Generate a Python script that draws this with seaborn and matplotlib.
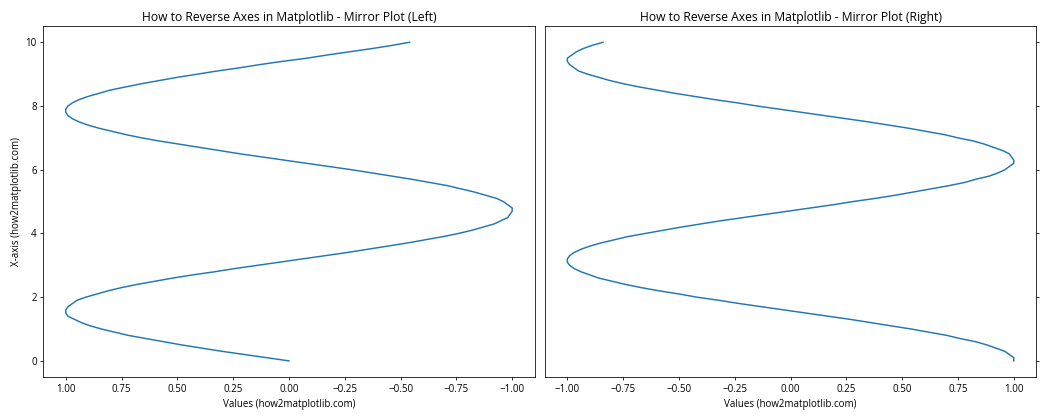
import pandas as pd
import seaborn as sns
import matplotlib
matplotlib.use("Agg")
import matplotlib.pyplot as plt

positions = [0.0, 0.1, 0.2, 0.3, 0.4, 0.5, 0.6, 0.7, 0.8, 0.9,
             1.0, 1.1, 1.2, 1.3, 1.4, 1.5, 1.6, 1.7, 1.8, 1.9,
             2.0, 2.1, 2.2, 2.3, 2.4, 2.5, 2.6, 2.7, 2.8, 2.9,
             3.0, 3.1, 3.2, 3.3, 3.4, 3.5, 3.6, 3.7, 3.8, 3.9,
             4.0, 4.1, 4.2, 4.3, 4.4, 4.5, 4.6, 4.7, 4.8, 4.9,
             5.0, 5.1, 5.2, 5.3, 5.4, 5.5, 5.6, 5.7, 5.8, 5.9,
             6.0, 6.1, 6.2, 6.3, 6.4, 6.5, 6.6, 6.7, 6.8, 6.9,
             7.0, 7.1, 7.2, 7.3, 7.4, 7.5, 7.6, 7.7, 7.8, 7.9,
             8.0, 8.1, 8.2, 8.3, 8.4, 8.5, 8.6, 8.7, 8.8, 8.9,
             9.0, 9.1, 9.2, 9.3, 9.4, 9.5, 9.6, 9.7, 9.8, 9.9,
             10.0]
left_values = [0.00, 0.10, 0.20, 0.30, 0.39, 0.48, 0.56, 0.64, 0.72, 0.78,
               0.84, 0.89, 0.93, 0.96, 0.99, 1.00, 1.00, 0.99, 0.97, 0.95,
               0.91, 0.86, 0.81, 0.75, 0.68, 0.60, 0.52, 0.43, 0.33, 0.24,
               0.14, 0.04, -0.06, -0.16, -0.26, -0.35, -0.44, -0.53, -0.61, -0.69,
               -0.76, -0.82, -0.87, -0.92, -0.95, -0.98, -0.99, -1.00, -1.00, -0.98,
               -0.96, -0.93, -0.88, -0.83, -0.77, -0.71, -0.63, -0.55, -0.46, -0.37,
               -0.28, -0.18, -0.08, 0.02, 0.12, 0.22, 0.31, 0.40, 0.49, 0.58,
               0.66, 0.73, 0.79, 0.85, 0.90, 0.94, 0.97, 0.99, 1.00, 1.00,
               0.99, 0.97, 0.94, 0.90, 0.85, 0.80, 0.73, 0.66, 0.58, 0.50,
               0.41, 0.32, 0.22, 0.13, 0.03, -0.08, -0.17, -0.27, -0.37, -0.46,
               -0.54]
right_values = [1.00, 1.00, 0.98, 0.96, 0.92, 0.88, 0.83, 0.76, 0.70, 0.62,
                0.54, 0.45, 0.36, 0.27, 0.17, 0.07, -0.03, -0.13, -0.23, -0.32,
                -0.42, -0.50, -0.59, -0.67, -0.74, -0.80, -0.86, -0.90, -0.94, -0.97,
                -0.99, -1.00, -1.00, -0.99, -0.97, -0.94, -0.90, -0.85, -0.79, -0.73,
                -0.65, -0.57, -0.49, -0.40, -0.31, -0.21, -0.11, -0.01, 0.09, 0.19,
                0.28, 0.38, 0.47, 0.55, 0.63, 0.71, 0.78, 0.83, 0.89, 0.93,
                0.96, 0.98, 1.00, 1.00, 0.99, 0.98, 0.95, 0.91, 0.87, 0.82,
                0.75, 0.69, 0.61, 0.53, 0.44, 0.35, 0.25, 0.15, 0.05, -0.05,
                -0.15, -0.24, -0.34, -0.43, -0.52, -0.60, -0.68, -0.75, -0.81, -0.86,
                -0.91, -0.95, -0.97, -0.99, -1.00, -1.00, -0.98, -0.96, -0.93, -0.89,
                -0.84]

plt.rcParams['font.family'] = ['Open Sans', 'DejaVu Sans']

df = pd.DataFrame({'pos': positions, 'left': left_values, 'right': right_values})

fig, (ax1, ax2) = plt.subplots(1, 2, figsize=(15, 6), dpi=70, sharey=True)

# left panel: x axis flipped
sns.lineplot(data=df, x='left', y='pos', orient='y', ax=ax1, color='tab:blue')
ax1.invert_xaxis()
ax1.set_title("How to Reverse Axes in Matplotlib - Mirror Plot (Left)", fontsize=12.5)
ax1.set_xlabel("Values (how2matplotlib.com)")
ax1.set_ylabel("X-axis (how2matplotlib.com)")

# right panel: ticks moved to the right side, no labels
sns.lineplot(data=df, x='right', y='pos', orient='y', ax=ax2, color='tab:blue')
ax2.yaxis.tick_right()
ax2.tick_params(axis='y', labelright=False, labelleft=False)
ax2.set_title("How to Reverse Axes in Matplotlib - Mirror Plot (Right)", fontsize=12.5)
ax2.set_xlabel("Values (how2matplotlib.com)")
ax2.set_ylabel("")

plt.tight_layout()
plt.savefig("out.png")
